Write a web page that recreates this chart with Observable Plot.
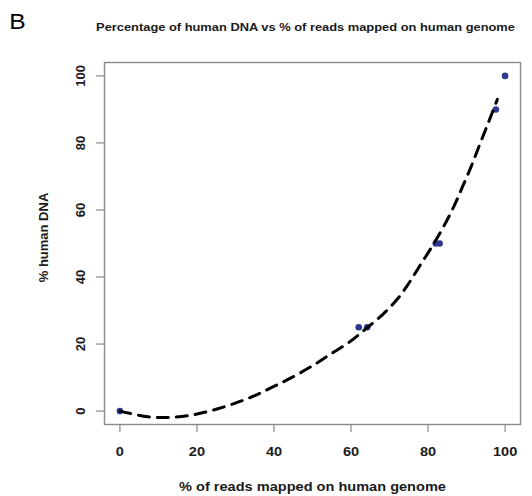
<!DOCTYPE html>
<html>
<head>
<meta charset="utf-8">
<script src="https://cdn.jsdelivr.net/npm/d3@7"></script>
<script src="https://cdn.jsdelivr.net/npm/@observablehq/plot@0.6"></script>
<style>
  html, body { margin: 0; padding: 0; background: #fff; }
  #chart svg { display: block; font-family: "Liberation Sans", Arial, sans-serif; }
</style>
</head>
<body>
<div id="chart"></div>
<script>
// Samples: % of reads mapped on the human genome vs known % human DNA
const readsMapped = [0, 62, 64.2, 82, 83, 97.6, 100];
const humanDNA    = [0, 25, 25, 50, 50, 90, 100];

// Fitted trend curve (dashed)
const fitX = [0, 7.3, 13, 18.6, 24.2, 29.8, 35, 39.7, 44.9, 50.1, 54.4, 59.6, 63.9, 68.2, 72.1, 75.1, 78.1, 81.2, 84.2, 86.8, 88.9, 91.1, 93.3, 95.4, 98];
const fitY = [0, -1.7, -1.9, -1.2, 0.3, 2.3, 4.6, 7.2, 10.2, 13.6, 16.8, 20.6, 24.6, 28.8, 33.5, 38.3, 43.8, 49.4, 55.4, 61.3, 66.8, 72.7, 79.2, 85.3, 93];

const xTicks = [0, 20, 40, 60, 80, 100];
const yTicks = [0, 20, 40, 60, 80, 100];

const panelLabel = "B";
const title = "Percentage of human DNA vs % of reads mapped on human genome";
const xLabel = "% of reads mapped on human genome";
const yLabel = "% human DNA";

const points = readsMapped.map((x, i) => ({x, y: humanDNA[i]}));
const fit = fitX.map((x, i) => ({x, y: fitY[i]}));

const gray = "#8a8a8a";
const ink = "#1a1a1a";

const chart = Plot.plot({
  width: 532,
  height: 496,
  marginLeft: 104,
  marginRight: 12,
  marginTop: 62,
  marginBottom: 72,
  style: {fontFamily: "'Liberation Sans', Arial, sans-serif", background: "#fff"},
  x: {domain: [-4, 104]},
  y: {domain: [-4, 104]},
  marks: [
    Plot.frame({stroke: gray, strokeWidth: 1.4}),
    Plot.axisX({
      ticks: xTicks, tickSize: 8, tickPadding: 14, stroke: gray, strokeWidth: 1.2,
      fontSize: 13, fontWeight: "bold", fill: ink, label: null
    }),
    Plot.axisY({
      ticks: yTicks, tickSize: 8, tickPadding: 12, tickRotate: -90, stroke: gray, strokeWidth: 1.2,
      fontSize: 13, fontWeight: "bold", fill: ink, label: null
    }),
    Plot.dot(points, {x: "x", y: "y", r: 3.3, fill: "#2b3990", stroke: null}),
    Plot.line(fit, {
      x: "x", y: "y", curve: "catmull-rom",
      stroke: "#000", strokeWidth: 3, strokeDasharray: "11,8"
    }),
    Plot.text([xLabel], {
      text: d => d, frameAnchor: "bottom", dy: 62, lineAnchor: "middle",
      fontSize: 13, fontWeight: "bold", fill: ink
    }),
    Plot.text([yLabel], {
      text: d => d, frameAnchor: "left", dx: -61, dy: -6, rotate: -90,
      lineAnchor: "middle", textAnchor: "middle",
      fontSize: 13, fontWeight: "bold", fill: ink
    }),
    Plot.text([title], {
      text: d => d, frameAnchor: "top", dx: -7, dy: -35, lineAnchor: "middle",
      fontSize: 11.5, fontWeight: "bold", fill: ink
    }),
    Plot.text([panelLabel], {
      text: d => d, frameAnchor: "top-left", dx: -87, dy: -41, textAnchor: "middle",
      lineAnchor: "middle", fontSize: 22, fill: "#000"
    })
  ]
});

// Horizontal text is set slightly wide: scale each upright label about its anchor
const wide = 1.12;
d3.select(chart).selectAll("text").each(function() {
  const t = this.getAttribute("transform") || "";
  if (t.includes("rotate")) return;
  const x = +this.getAttribute("x") || 0;
  const y = +this.getAttribute("y") || 0;
  this.setAttribute("transform", `${t} translate(${x},${y}) scale(${wide},1) translate(${-x},${-y})`);
});

document.getElementById("chart").append(chart);
</script>
</body>
</html>
